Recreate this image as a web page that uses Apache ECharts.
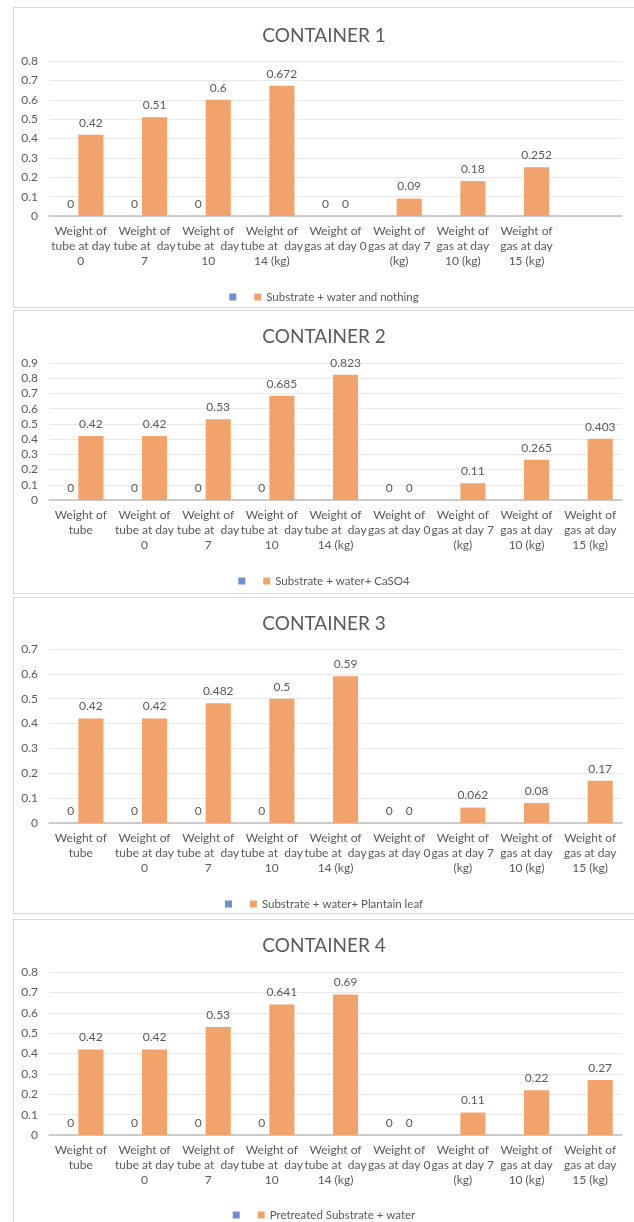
<!DOCTYPE html>
<html>
<head>
<meta charset="utf-8">
<script src="https://cdn.jsdelivr.net/npm/echarts@6/dist/echarts.min.js"></script>
<style>
  html, body { margin: 0; padding: 0; background: #fff; overflow: hidden; }
  body { width: 634px; height: 1222px; position: relative; }
  .panel {
    position: absolute; left: 13px; width: 621px;
    border: 1px solid #d9d9d9; border-right: none; box-sizing: border-box;
  }
</style>
</head>
<body>
<div class="panel" id="c1" style="top:7px;height:301px"></div>
<div class="panel" id="c2" style="top:310px;height:284px"></div>
<div class="panel" id="c3" style="top:597px;height:317px"></div>
<div class="panel" id="c4" style="top:919px;height:310px"></div>
<script>
// categories (wrapped the way the chart shows them)
const catsC1 = [
  "Weight of\ntube at day\n0", "Weight of\ntube at  day\n7", "Weight of\ntube at  day\n10",
  "Weight of\ntube at  day\n14 (kg)", "Weight of\ngas at day 0", "Weight of\ngas at day 7\n(kg)",
  "Weight of\ngas at day\n10 (kg)", "Weight of\ngas at day\n15 (kg)", ""
];
const catsC234 = [
  "Weight of\ntube", "Weight of\ntube at day\n0", "Weight of\ntube at  day\n7",
  "Weight of\ntube at  day\n10", "Weight of\ntube at  day\n14 (kg)", "Weight of\ngas at day 0",
  "Weight of\ngas at day 7\n(kg)", "Weight of\ngas at day\n10 (kg)", "Weight of\ngas at day\n15 (kg)"
];

// blue (unnamed) series
const blankC1 = [0, 0, 0, null, 0, null, null, null, null];
const blankC234 = [0, 0, 0, 0, null, 0, null, null, null];

// orange series
const valsC1 = [0.42, 0.51, 0.6, 0.672, 0, 0.09, 0.18, 0.252, null];
const valsC2 = [0.42, 0.42, 0.53, 0.685, 0.823, 0, 0.11, 0.265, 0.403];
const valsC3 = [0.42, 0.42, 0.482, 0.5, 0.59, 0, 0.062, 0.08, 0.17];
const valsC4 = [0.42, 0.42, 0.53, 0.641, 0.69, 0, 0.11, 0.22, 0.27];

const titles = ["CONTAINER 1", "CONTAINER 2", "CONTAINER 3", "CONTAINER 4"];
const names = ["Substrate + water and nothing", "Substrate + water+ CaSO4",
  "Substrate + water+ Plantain leaf", "Pretreated Substrate + water"];
const yMax = [0.8, 0.9, 0.7, 0.8];

const FONT = "Lato, 'Open Sans', sans-serif";
const TXT = "#595959";

function draw(id, idx, cats, blank, vals, lay) {
  var chart = echarts.init(document.getElementById(id));
  chart.setOption({
    animation: false,
    textStyle: { fontFamily: FONT },
    title: {
      text: titles[idx], left: "center", top: lay.titleTop,
      textStyle: { fontFamily: FONT, fontSize: 19, fontWeight: "normal", color: TXT }
    },
    legend: {
      data: [" ", names[idx]], left: "center", top: lay.legendTop,
      icon: "rect", itemWidth: 7, itemHeight: 7, itemGap: 10,
      textStyle: { fontFamily: FONT, fontSize: 11.5, color: TXT }
    },
    grid: { left: 35, right: 12, top: lay.gridTop, bottom: lay.gridBottom, containLabel: false },
    xAxis: {
      type: "category", data: cats,
      axisTick: { show: false },
      axisLine: { lineStyle: { color: "#bfbfbf", width: 1.5 } },
      axisLabel: { interval: 0, hideOverlap: false, color: TXT, fontFamily: FONT,
        fontSize: 12, lineHeight: 15, margin: 8 }
    },
    yAxis: {
      type: "value", min: 0, max: yMax[idx], interval: 0.1,
      axisLine: { show: false }, axisTick: { show: false },
      axisLabel: { color: TXT, fontFamily: FONT, fontSize: 12, margin: 11,
        formatter: function (v) { return String(Math.round(v * 10) / 10); } },
      splitLine: { lineStyle: { color: "#e8e8e8" } }
    },
    series: [
      { name: " ", type: "bar", data: blank, itemStyle: { color: "#6f8fd2" },
        barGap: "-20%", barCategoryGap: "29%",
        label: { show: true, position: "top", distance: 6, color: TXT, fontSize: 12, fontFamily: FONT } },
      { name: names[idx], type: "bar", data: vals, itemStyle: { color: "#f2a36b" },
        barGap: "-20%", barCategoryGap: "29%",
        label: { show: true, position: "top", distance: 6, color: TXT, fontSize: 12, fontFamily: FONT } }
    ]
  });
}

draw("c1", 0, catsC1, blankC1, valsC1, { titleTop: 13, gridTop: 53, gridBottom: 91, legendTop: 278 });
draw("c2", 1, catsC234, blankC234, valsC2, { titleTop: 11, gridTop: 52, gridBottom: 93, legendTop: 259 });
draw("c3", 2, catsC234, blankC234, valsC3, { titleTop: 11, gridTop: 51, gridBottom: 90, legendTop: 295 });
draw("c4", 3, catsC234, blankC234, valsC4, { titleTop: 11, gridTop: 52, gridBottom: 93, legendTop: 284 });
</script>
</body>
</html>
